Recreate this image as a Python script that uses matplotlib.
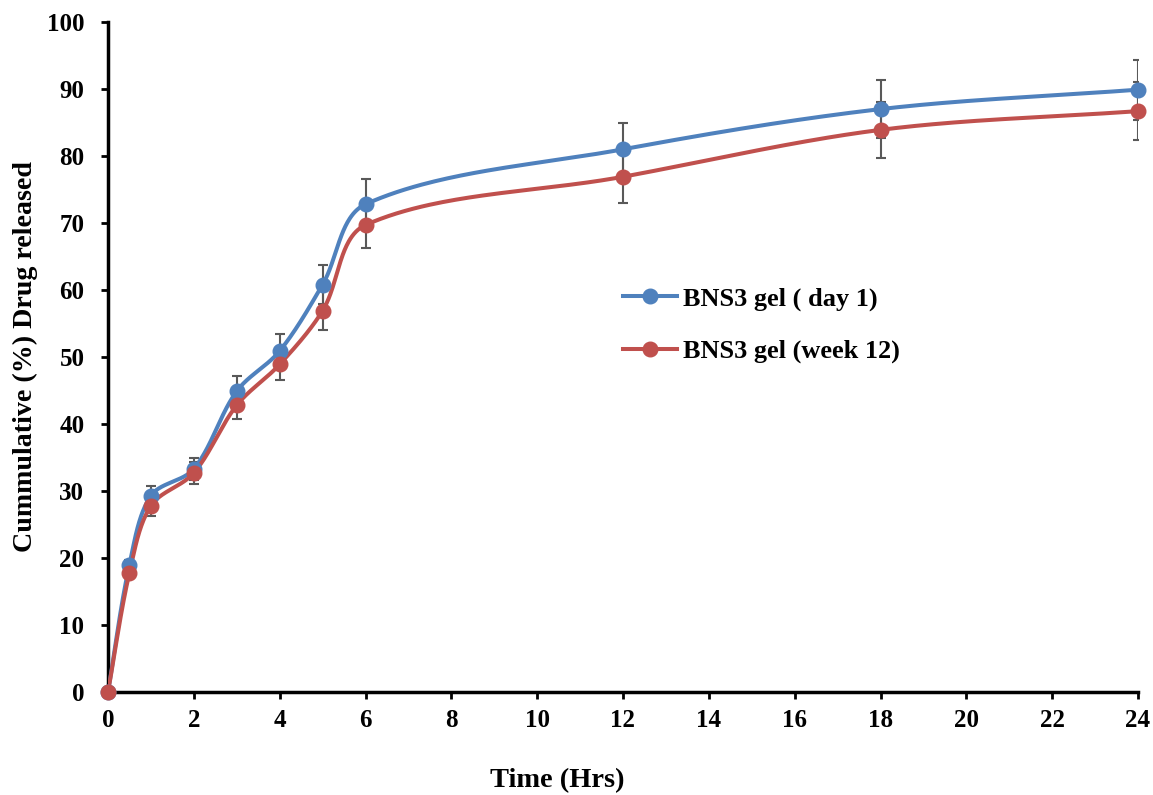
import numpy as np
import matplotlib
matplotlib.use("Agg")
import matplotlib.pyplot as plt
from matplotlib.lines import Line2D

plt.rcParams['font.family'] = ['Liberation Serif', 'DejaVu Serif']
plt.rcParams['font.weight'] = 'bold'

time_hrs = [0, 0.5, 1, 2, 3, 4, 5, 6, 12, 18, 24]
day1 = [0, 19.0, 29.3, 33.3, 44.9, 50.9, 60.8, 72.8, 81.0, 87.0, 89.9]
day1_err = [0, 0.7, 1.5, 1.7, 2.2, 2.5, 2.9, 3.7, 4.0, 4.3, 4.5]
week12 = [0, 17.8, 27.8, 32.7, 42.8, 48.9, 56.9, 69.7, 76.9, 83.9, 86.7]
week12_err = [0, 0.7, 1.5, 1.7, 2.1, 2.4, 2.9, 3.5, 3.9, 4.2, 4.3]

series_labels = ["BNS3 gel ( day 1)", "BNS3 gel (week 12)"]
x_ticks = list(range(0, 25, 2))
y_ticks = list(range(0, 101, 10))

BLUE = "#4F81BD"
RED = "#C0504D"
GREY = "#595959"

FIG_W, FIG_H = 1153, 795
AX_L, AX_R, AX_T, AX_B = 108, 1138, 22, 692


def smooth_curve(x, y, sx, sy, n=60):
    """Cubic Bezier smoothing through every point; tangents are split by
    chord length (measured in display units) so no segment loops back."""
    p = np.column_stack([x, y]).astype(float)
    scale = np.array([sx, sy])
    q = p * scale
    m = len(p)
    chord = np.linalg.norm(np.diff(q, axis=0), axis=1)
    pts = []
    for i in range(m - 1):
        p1, p2 = p[i], p[i + 1]
        # outgoing control point at p1
        if i > 0:
            d = p[i + 1] - p[i - 1]
            w = chord[i] / (chord[i - 1] + chord[i])
            c1 = p1 + d * w / 3.0
        else:
            c1 = p1 + (p2 - p1) / 3.0
        # incoming control point at p2
        if i + 2 < m:
            d = p[i + 2] - p[i]
            w = chord[i] / (chord[i] + chord[i + 1])
            c2 = p2 - d * w / 3.0
        else:
            c2 = p2 - (p2 - p1) / 3.0
        t = np.linspace(0, 1, n)[:, None]
        seg = ((1 - t) ** 3) * p1 + 3 * ((1 - t) ** 2) * t * c1 \
            + 3 * (1 - t) * t ** 2 * c2 + t ** 3 * p2
        pts.append(seg if i == 0 else seg[1:])
    s = np.vstack(pts)
    return s[:, 0], s[:, 1]


fig = plt.figure(figsize=(FIG_W / 100, FIG_H / 100), dpi=100)
ax = fig.add_axes([AX_L / FIG_W, (FIG_H - AX_B) / FIG_H,
                   (AX_R - AX_L) / FIG_W, (AX_B - AX_T) / FIG_H])
ax.set_xlim(0, 24)
ax.set_ylim(0, 100)

px_per_x = (AX_R - AX_L) / 24.0
px_per_y = (AX_B - AX_T) / 100.0

for vals, errs in [(day1, day1_err), (week12, week12_err)]:
    ax.errorbar(time_hrs, vals, yerr=errs, fmt='none', ecolor=GREY,
                elinewidth=1.5, capsize=3.8, capthick=1.5, zorder=2)

for vals, col in [(day1, BLUE), (week12, RED)]:
    sx, sy = smooth_curve(time_hrs, vals, px_per_x, px_per_y)
    ax.plot(sx, sy, color=col, lw=2.9, zorder=3, solid_capstyle='round')
    ax.plot(time_hrs, vals, 'o', color=col, ms=10.5, zorder=4, clip_on=False)

ax.set_xticks(x_ticks)
ax.set_yticks(y_ticks)
ax.tick_params(axis='both', direction='out', length=5, width=2, labelsize=18,
               color='black')
ax.tick_params(axis='x', pad=7)
ax.tick_params(axis='y', pad=12)
for lab in ax.get_xticklabels() + ax.get_yticklabels():
    lab.set_fontweight('bold')

for side in ['top', 'right']:
    ax.spines[side].set_visible(False)
for side in ['left', 'bottom']:
    ax.spines[side].set_linewidth(2.5)
    ax.spines[side].set_color('black')

ax.set_ylabel("Cummulative (%) Drug released", fontsize=20.2, fontweight='bold')
ax.yaxis.set_label_coords((38 - AX_L) / (AX_R - AX_L), 0.5)
ax.set_xlabel("Time (Hrs)", fontsize=20.4, fontweight='bold')
ax.xaxis.set_label_coords((557 - AX_L) / (AX_R - AX_L), -0.114)

handles = [Line2D([0], [0], color=c, lw=2.9, marker='o', ms=10.5)
           for c in (BLUE, RED)]
ax.legend(handles, series_labels, loc='upper left',
          bbox_to_anchor=((623 - AX_L) / (AX_R - AX_L),
                          (AX_B - 287) / (AX_B - AX_T)),
          frameon=False, borderaxespad=0, borderpad=0,
          handlelength=2.05, handletextpad=0.22, labelspacing=1.1,
          prop={'weight': 'bold', 'size': 18.9})

fig.savefig("out.png", dpi=100)
